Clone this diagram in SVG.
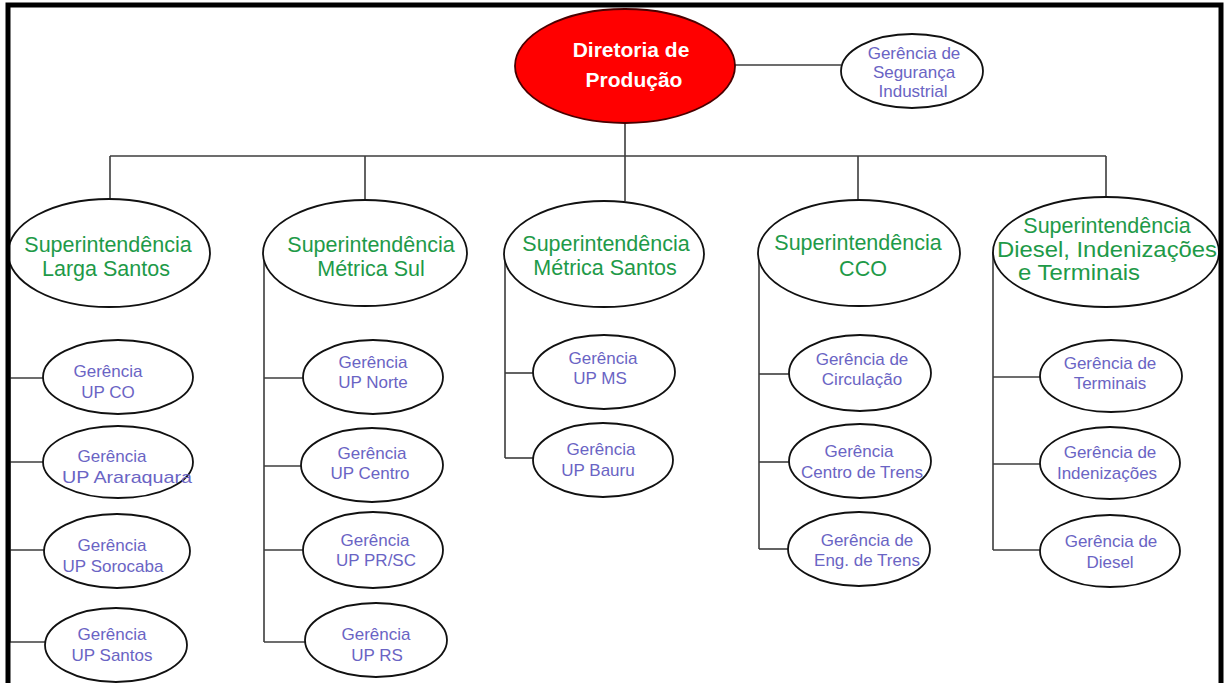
<svg xmlns="http://www.w3.org/2000/svg" width="1224" height="683" viewBox="0 0 1224 683">
  <style>
    .frame { fill: none; stroke: #000; stroke-width: 5; }
    .conn line { stroke: #3c3c3c; stroke-width: 1.6; }
    .node ellipse { fill: #fff; stroke: #111; stroke-width: 1.8; }
    .root ellipse { fill: #ff0000; stroke: #4a0000; stroke-width: 1.8; }
    text { font-family: "Liberation Sans", Arial, sans-serif; text-anchor: middle; }
    .root text { fill: #fff; font-size: 21px; font-weight: bold; }
    .sup text { fill: #1e9a48; font-size: 21.5px; }
    .ger text { fill: #6a64c4; font-size: 17px; }
  </style>
  <rect width="1224" height="683" fill="#fff"/>

  <!-- connectors -->
  <g id="connectors" class="conn">
    <line x1="735" y1="65" x2="841" y2="65"/>
    <line x1="625" y1="123" x2="625" y2="201"/>
    <line x1="110" y1="156" x2="1106" y2="156"/>
    <line x1="110" y1="156" x2="110" y2="199"/>
    <line x1="365" y1="156" x2="365" y2="200"/>
    <line x1="858" y1="156" x2="858" y2="200"/>
    <line x1="1106" y1="156" x2="1106" y2="197"/>
    <!-- Larga Santos -->
    <line x1="10" y1="253" x2="10" y2="642"/>
    <line x1="10" y1="378" x2="44" y2="378"/>
    <line x1="10" y1="462" x2="44" y2="462"/>
    <line x1="10" y1="550" x2="44" y2="550"/>
    <line x1="10" y1="642" x2="45" y2="642"/>
    <!-- Metrica Sul -->
    <line x1="264" y1="253" x2="264" y2="642"/>
    <line x1="264" y1="378" x2="303" y2="378"/>
    <line x1="264" y1="466" x2="302" y2="466"/>
    <line x1="264" y1="550" x2="303" y2="550"/>
    <line x1="264" y1="642" x2="305" y2="642"/>
    <!-- Metrica Santos -->
    <line x1="505" y1="254" x2="505" y2="458"/>
    <line x1="505" y1="373" x2="533" y2="373"/>
    <line x1="505" y1="458" x2="533" y2="458"/>
    <!-- CCO -->
    <line x1="759" y1="253" x2="759" y2="549"/>
    <line x1="759" y1="374" x2="789" y2="374"/>
    <line x1="759" y1="462" x2="789" y2="462"/>
    <line x1="759" y1="549" x2="788" y2="549"/>
    <!-- Diesel -->
    <line x1="993" y1="252" x2="993" y2="550"/>
    <line x1="993" y1="377" x2="1040" y2="377"/>
    <line x1="993" y1="464" x2="1040" y2="464"/>
    <line x1="993" y1="550" x2="1040" y2="550"/>
  </g>

  <!-- top level -->
  <g id="diretoria" class="root">
    <ellipse cx="625" cy="66" rx="110" ry="57"/>
    <text x="631" y="57">Diretoria de</text>
    <text x="634" y="87">Produção</text>
  </g>
  <g id="seguranca" class="node ger">
    <ellipse cx="912" cy="71" rx="71" ry="37"/>
    <text x="914" y="59">Gerência de</text>
    <text x="914" y="78">Segurança</text>
    <text x="913" y="97">Industrial</text>
  </g>

  <!-- superintendencias -->
  <g id="sup-larga-santos" class="node sup">
    <ellipse cx="109" cy="253" rx="101" ry="54"/>
    <text x="108" y="252">Superintendência</text>
    <text x="106" y="276">Larga Santos</text>
  </g>
  <g id="sup-metrica-sul" class="node sup">
    <ellipse cx="365" cy="253" rx="102" ry="53"/>
    <text x="371" y="252">Superintendência</text>
    <text x="371" y="276">Métrica Sul</text>
  </g>
  <g id="sup-metrica-santos" class="node sup">
    <ellipse cx="604" cy="254" rx="100" ry="53"/>
    <text x="606" y="251">Superintendência</text>
    <text x="605" y="275">Métrica Santos</text>
  </g>
  <g id="sup-cco" class="node sup">
    <ellipse cx="859" cy="253" rx="101" ry="53"/>
    <text x="858" y="250">Superintendência</text>
    <text x="863" y="276">CCO</text>
  </g>
  <g id="sup-diesel" class="node sup">
    <ellipse cx="1106" cy="252" rx="113" ry="55"/>
    <text x="1107" y="233">Superintendência</text>
    <text x="1107" y="257" textLength="220" lengthAdjust="spacingAndGlyphs">Diesel, Indenizações</text>
    <text x="1079" y="280" textLength="122" lengthAdjust="spacingAndGlyphs">e Terminais</text>
  </g>

  <!-- gerencias: Larga Santos -->
  <g id="ger-up-co" class="node ger">
    <ellipse cx="118" cy="377" rx="75" ry="37"/>
    <text x="108" y="377">Gerência</text>
    <text x="108" y="398">UP CO</text>
  </g>
  <g id="ger-up-araraquara" class="node ger">
    <ellipse cx="118" cy="462" rx="75" ry="36"/>
    <text x="112" y="462">Gerência</text>
    <text x="127" y="483" textLength="130" lengthAdjust="spacingAndGlyphs">UP Araraquara</text>
  </g>
  <g id="ger-up-sorocaba" class="node ger">
    <ellipse cx="117" cy="551" rx="73" ry="37"/>
    <text x="112" y="551">Gerência</text>
    <text x="113" y="572">UP Sorocaba</text>
  </g>
  <g id="ger-up-santos" class="node ger">
    <ellipse cx="116" cy="645" rx="71" ry="37"/>
    <text x="112" y="640">Gerência</text>
    <text x="112" y="661">UP Santos</text>
  </g>

  <!-- gerencias: Metrica Sul -->
  <g id="ger-up-norte" class="node ger">
    <ellipse cx="373" cy="377" rx="70" ry="37"/>
    <text x="373" y="368">Gerência</text>
    <text x="373" y="388">UP Norte</text>
  </g>
  <g id="ger-up-centro" class="node ger">
    <ellipse cx="372" cy="465" rx="71" ry="37"/>
    <text x="372" y="459">Gerência</text>
    <text x="370" y="479">UP Centro</text>
  </g>
  <g id="ger-up-prsc" class="node ger">
    <ellipse cx="373" cy="550" rx="70" ry="38"/>
    <text x="375" y="546">Gerência</text>
    <text x="376" y="566">UP PR/SC</text>
  </g>
  <g id="ger-up-rs" class="node ger">
    <ellipse cx="376" cy="640" rx="71" ry="37"/>
    <text x="376" y="640">Gerência</text>
    <text x="377" y="661">UP RS</text>
  </g>

  <!-- gerencias: Metrica Santos -->
  <g id="ger-up-ms" class="node ger">
    <ellipse cx="604" cy="372" rx="71" ry="37"/>
    <text x="603" y="364">Gerência</text>
    <text x="600" y="384">UP MS</text>
  </g>
  <g id="ger-up-bauru" class="node ger">
    <ellipse cx="603" cy="460" rx="70" ry="37"/>
    <text x="601" y="455">Gerência</text>
    <text x="598" y="476">UP Bauru</text>
  </g>

  <!-- gerencias: CCO -->
  <g id="ger-circulacao" class="node ger">
    <ellipse cx="860" cy="373" rx="71" ry="38"/>
    <text x="862" y="365">Gerência de</text>
    <text x="862" y="385">Circulação</text>
  </g>
  <g id="ger-centro-trens" class="node ger">
    <ellipse cx="860" cy="461" rx="71" ry="37"/>
    <text x="859" y="457">Gerência</text>
    <text x="862" y="478">Centro de Trens</text>
  </g>
  <g id="ger-eng-trens" class="node ger">
    <ellipse cx="859" cy="549" rx="71" ry="37"/>
    <text x="867" y="546">Gerência de</text>
    <text x="867" y="566">Eng. de Trens</text>
  </g>

  <!-- gerencias: Diesel, Indenizacoes e Terminais -->
  <g id="ger-terminais" class="node ger">
    <ellipse cx="1111" cy="376" rx="71" ry="36"/>
    <text x="1110" y="369">Gerência de</text>
    <text x="1110" y="389">Terminais</text>
  </g>
  <g id="ger-indenizacoes" class="node ger">
    <ellipse cx="1110" cy="463" rx="70" ry="36"/>
    <text x="1110" y="458">Gerência de</text>
    <text x="1107" y="479">Indenizações</text>
  </g>
  <g id="ger-diesel" class="node ger">
    <ellipse cx="1110" cy="551" rx="70" ry="36"/>
    <text x="1111" y="547">Gerência de</text>
    <text x="1110" y="568">Diesel</text>
  </g>

  <rect class="frame" x="8" y="5" width="1213" height="700"/>
</svg>
